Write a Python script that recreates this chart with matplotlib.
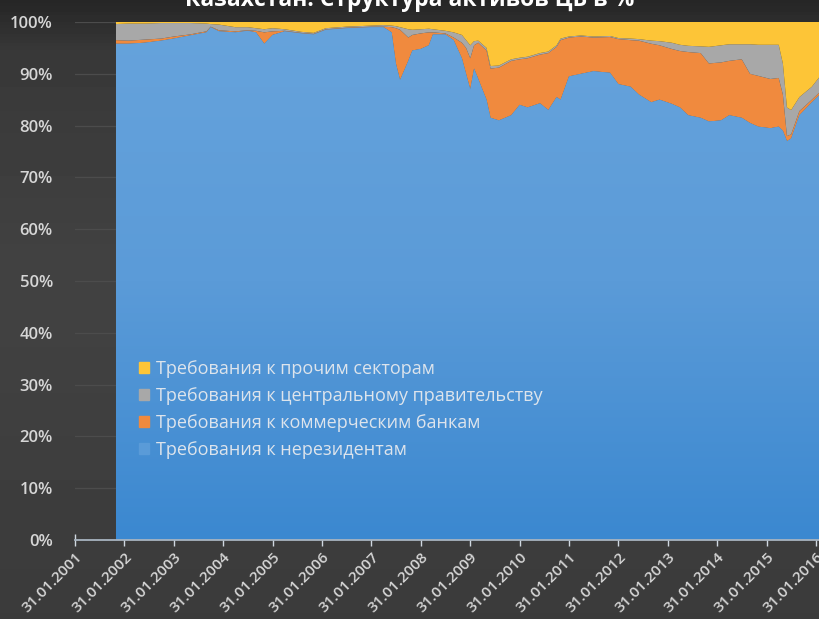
import matplotlib
matplotlib.use("Agg")
from matplotlib import pyplot as plt
import matplotlib.dates as mdates
from matplotlib.patches import Patch
import numpy as np
import pandas as pd

plt.rcParams["font.family"] = ["Open Sans", "DejaVu Sans"]

# month of observation (end of month) and shares of each claim type, %
months = ["2001-11", "2002-02", "2002-06", "2002-10", "2003-01", "2003-05", "2003-09", "2003-10",
          "2003-12", "2004-04", "2004-07", "2004-09", "2004-11", "2005-01", "2005-04", "2005-08",
          "2005-11", "2006-02", "2006-07", "2007-01", "2007-04", "2007-06", "2007-07", "2007-08",
          "2007-10", "2007-11", "2008-01", "2008-03", "2008-04", "2008-07", "2008-09", "2008-11",
          "2008-12", "2009-01", "2009-02", "2009-03", "2009-05", "2009-06", "2009-08", "2009-11",
          "2010-01", "2010-03", "2010-06", "2010-08", "2010-10", "2010-11", "2011-01", "2011-04",
          "2011-07", "2011-11", "2012-01", "2012-04", "2012-06", "2012-09", "2012-11", "2013-02",
          "2013-04", "2013-06", "2013-09", "2013-11", "2014-02", "2014-04", "2014-07", "2014-09",
          "2014-11", "2015-02", "2015-04", "2015-05", "2015-06", "2015-07", "2015-09", "2015-12",
          "2016-02"]

nonresidents = [95.8, 95.8, 96.0, 96.4, 96.8, 97.4, 98.0, 99.0,
                98.2, 98.0, 98.3, 98.0, 95.8, 97.5, 98.2, 97.8,
                97.6, 98.5, 98.8, 99.0, 99.0, 98.0, 92.0, 88.8,
                92.5, 94.5, 94.8, 95.5, 97.6, 97.6, 96.5, 93.0,
                90.0, 87.0, 91.0, 89.0, 85.0, 81.5, 81.0, 82.0,
                84.0, 83.5, 84.3, 83.0, 85.5, 85.0, 89.5, 90.0,
                90.5, 90.2, 88.0, 87.5, 86.0, 84.5, 85.0, 84.2,
                83.5, 82.0, 81.5, 80.8, 81.0, 82.0, 81.5, 80.5,
                79.8, 79.5, 79.8, 79.0, 77.0, 77.5, 82.0, 84.5,
                86.0]

banks = [0.7, 0.6, 0.6, 0.4, 0.4, 0.2, 0.2, 0.1,
         0.2, 0.2, 0.1, 0.3, 2.2, 0.7, 0.1, 0.1,
         0.1, 0.1, 0.1, 0.1, 0.1, 1.0, 6.8, 9.7,
         4.5, 3.0, 3.0, 2.5, 0.4, 0.2, 0.5, 3.0,
         5.0, 6.0, 4.5, 7.0, 9.5, 9.5, 10.2, 10.5,
         8.8, 9.5, 9.4, 11.0, 9.7, 11.5, 7.5, 7.2,
         6.5, 6.9, 8.7, 9.0, 10.4, 11.3, 10.5, 10.6,
         10.9, 12.2, 12.5, 11.2, 11.2, 10.5, 11.3, 9.5,
         9.8, 9.5, 9.4, 7.0, 1.0, 0.8, 0.8, 0.5,
         0.5]

government = [3.1, 3.3, 3.1, 3.0, 2.6, 2.2, 1.5, 0.5,
              1.1, 0.8, 0.6, 0.5, 0.6, 0.6, 0.3, 0.2,
              0.2, 0.2, 0.2, 0.2, 0.3, 0.3, 0.4, 0.5,
              1.6, 1.0, 0.8, 0.7, 0.6, 0.5, 1.0, 1.5,
              1.5, 2.5, 0.8, 0.4, 0.5, 0.5, 0.4, 0.3,
              0.3, 0.3, 0.3, 0.3, 0.3, 0.3, 0.2, 0.2,
              0.2, 0.2, 0.2, 0.3, 0.3, 0.6, 0.8, 1.2,
              1.2, 1.2, 1.3, 3.2, 3.3, 3.2, 2.9, 5.7,
              6.0, 6.6, 6.4, 6.0, 5.5, 4.7, 2.7, 2.5,
              3.0]

other = [0.4, 0.3, 0.3, 0.2, 0.2, 0.2, 0.3, 0.4,
         0.5, 1.0, 1.0, 1.2, 1.4, 1.2, 1.4, 1.9,
         2.1, 1.2, 0.9, 0.7, 0.6, 0.7, 0.8, 1.0,
         1.4, 1.5, 1.4, 1.3, 1.4, 1.7, 2.0, 2.5,
         3.5, 4.5, 3.7, 3.6, 5.0, 8.5, 8.4, 7.2,
         6.9, 6.7, 6.0, 5.7, 4.5, 3.2, 2.8, 2.6,
         2.8, 2.7, 3.1, 3.2, 3.3, 3.6, 3.7, 4.0,
         4.4, 4.6, 4.7, 4.8, 4.5, 4.3, 4.3, 4.3,
         4.4, 4.4, 4.4, 8.0, 16.5, 17.0, 14.5, 12.5,
         10.5]

labels = ["Требования к прочим секторам",
          "Требования к центральному правительству",
          "Требования к коммерческим банкам",
          "Требования к нерезидентам"]

C_BLUE = "#5a9bd8"
C_ORANGE = "#f08a3e"
C_GREY = "#a8a8a8"
C_YELLOW = "#fdc537"
TXT = "#d6d6d6"

dates = pd.to_datetime(months) + pd.offsets.MonthEnd(0)
ticks = pd.to_datetime([f"{y}-01-31" for y in range(2001, 2017)])

W, H = 819, 619
fig = plt.figure(figsize=(W / 100, H / 100), dpi=100)

# dark backdrop with a soft vertical gradient
bg = fig.add_axes([0, 0, 1, 1], zorder=-10)
bg.axis("off")
shade = np.interp(np.linspace(0, 1, 200), [0, 0.08, 0.45, 1.0], [0.15, 0.22, 0.26, 0.23])
bg.imshow(np.repeat(shade[:, None], 2, axis=1), cmap="gray", vmin=0, vmax=1,
          aspect="auto", extent=[0, 1, 0, 1])

ax = fig.add_axes([75 / W, (H - 540) / H, (W - 75) / W, (540 - 22) / H])
ax.patch.set_alpha(0)

polys = ax.stackplot(dates, nonresidents, banks, government, other,
                     colors=[C_BLUE, C_ORANGE, C_GREY, C_YELLOW], lw=0, zorder=2)

# lighter-at-top gradient inside the nonresident area
grad = np.linspace(0, 1, 256)[:, None]
cmap = matplotlib.colors.LinearSegmentedColormap.from_list("b", ["#3b88d0", "#5b9bd8", "#66a3dc"])
x0, x1 = mdates.date2num(dates[0]), mdates.date2num(dates[-1])
im = ax.imshow(grad, cmap=cmap, aspect="auto", origin="lower",
               extent=[x0, x1, 0, 100], zorder=2.5)
im.set_clip_path(polys[0].get_paths()[0], transform=ax.transData)

ax.set_xlim(ticks[0], ticks[-1] + pd.Timedelta(days=22))
ax.set_ylim(0, 100)

ax.set_yticks(np.arange(0, 101, 10))
ax.set_yticklabels([f"{v}%" for v in range(0, 101, 10)])
ax.set_xticks(ticks)
ax.xaxis.set_major_formatter(mdates.DateFormatter("%d.%m.%Y"))

ax.grid(axis="y", color="#4c4c4c", lw=0.9, zorder=0)
ax.tick_params(axis="y", length=0, pad=16, labelsize=12, labelcolor=TXT)
ax.tick_params(axis="x", direction="inout", length=8, width=1, color="#d0d8e0",
               labelsize=11, labelcolor=TXT, pad=3)
for lab in ax.get_xticklabels():
    lab.set_rotation(45)
    lab.set_ha("right")
    lab.set_va("top")
    lab.set_rotation_mode("anchor")
    lab.set_fontweight("semibold")
for lab in ax.get_yticklabels():
    lab.set_fontweight("semibold")

for s in ["top", "right", "left"]:
    ax.spines[s].set_visible(False)
ax.spines["bottom"].set_color("#a8b4c0")
ax.spines["bottom"].set_linewidth(1.3)
ax.spines["bottom"].set_zorder(3)

handles = [Patch(color=c) for c in [C_YELLOW, C_GREY, C_ORANGE, C_BLUE]]
leg = ax.legend(handles, labels, loc="upper left", bbox_to_anchor=(57 / 744, (540 - 353) / 518),
                frameon=False, fontsize=13, handlelength=0.55, handleheight=0.55,
                handletextpad=0.4, labelspacing=0.5, borderaxespad=0)
for t in leg.get_texts():
    t.set_color("#dde4ec")

fig.text(0.5, 1 - 6 / H, "Казахстан: Структура активов ЦБ в %", ha="center", va="baseline",
         fontsize=16.5, fontweight="bold", color="white")

fig.savefig("out.png", dpi=100, facecolor=fig.get_facecolor())
